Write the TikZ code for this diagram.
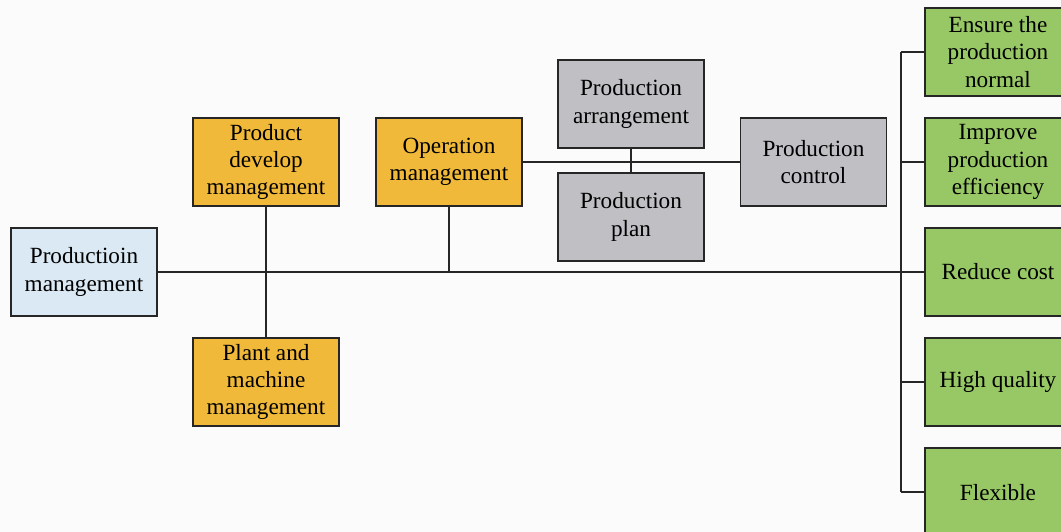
\documentclass[tikz,border=0pt]{standalone}
\usepackage{fontspec}
\setmainfont{Liberation Serif}
\newfontfamily\boxfont{Liberation Serif}
\usetikzlibrary{positioning}

\definecolor{bgcol}{HTML}{FBFBFB}
\definecolor{rootcol}{HTML}{DAE9F3}
\definecolor{midcol}{HTML}{F0B93A}
\definecolor{subcol}{HTML}{C0BFC4}
\definecolor{goalcol}{HTML}{97C865}

\begin{document}
\begin{tikzpicture}[
  x=0.025cm, y=0.025cm,
  box/.style={draw=black!85, line width=0.9pt, rectangle, minimum width=3.65cm,
    minimum height=2.2cm, inner sep=0pt, outer sep=0pt, text centered, align=center,
    font=\boxfont\fontsize{16.5}{19.5}\selectfont},
  link/.style={draw=black!85, line width=0.9pt}
]

% Canvas
\fill[bgcol] (0,0) rectangle (1061,532);
\useasboundingbox (0,0) rectangle (1061,532);

% Root
\node[box, fill=rootcol] (prodman) at (84,260) {Productioin\\management};

% Second level
\node[box, fill=midcol] (develop) at (266,370) {Product\\develop\\management};
\node[box, fill=midcol] (plant) at (266,150) {Plant and\\machine\\management};
\node[box, fill=midcol] (operation) at (449,370) {Operation\\management};

% Operation details
\node[box, fill=subcol] (arrange) at (631,428) {Production\\arrangement};
\node[box, fill=subcol] (plan) at (631,315) {Production\\plan};
\node[box, fill=subcol] (control) at (813.5,370) {Production\\control};

% Goals
\node[box, fill=goalcol] (goal1) at (998,480) {Ensure the\\production\\normal};
\node[box, fill=goalcol, below=0.55cm of goal1] (goal2) {Improve\\production\\efficiency};
\node[box, fill=goalcol, below=0.55cm of goal2] (goal3) {Reduce cost};
\node[box, fill=goalcol, below=0.55cm of goal3] (goal4) {High quality};
\node[box, fill=goalcol, below=0.55cm of goal4] (goal5) {Flexible};

% Connections
\draw[link] (prodman.east) -- (prodman.east -| goal3.west);
\draw[link] (develop.south) -- (plant.north);
\draw[link] (operation.south) -- (operation.south |- prodman.east);
\draw[link] (operation.east) -- (control.west);
\draw[link] (arrange.south) -- (plan.north);

% Bracket to goals
\coordinate (bar) at (901,0);
\draw[link] (goal1.west -| bar) -- (goal5.west -| bar);
\foreach \i in {1,...,5}
  \draw[link] (goal\i.west -| bar) -- (goal\i.west);

\end{tikzpicture}
\end{document}
